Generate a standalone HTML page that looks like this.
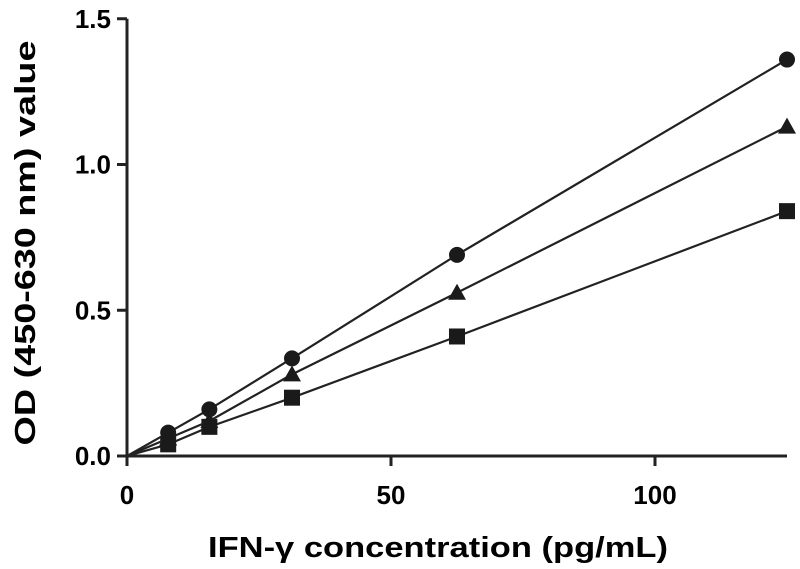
<!DOCTYPE html>
<html><head><meta charset="utf-8"><style>
body{margin:0;background:#fff}
svg{display:block;font-family:"Liberation Sans",Arial,sans-serif;font-weight:bold}
</style></head><body>
<svg id="chart" width="800" height="569" viewBox="0 0 800 569">
<g id="axes"></g>
<g id="series"></g>
<text x="438" y="557" font-size="29" text-anchor="middle" textLength="460" lengthAdjust="spacingAndGlyphs">IFN-γ concentration (pg/mL)</text>
<text transform="translate(35,243) rotate(-90)" font-size="29" text-anchor="middle" textLength="405" lengthAdjust="spacingAndGlyphs">OD (450-630 nm) value</text>
</svg>
<script>
const xValues=[0,7.8,15.6,31.25,62.5,125];
const circleValues=[0,0.08,0.16,0.335,0.69,1.36];
const triangleValues=[0,0.06,0.12,0.28,0.56,1.13];
const squareValues=[0,0.04,0.10,0.20,0.41,0.84];
const xTicks=[0,50,100];
const yTicks=[0.0,0.5,1.0,1.5];
const xTickLabels=["0","50","100"];
const yTickLabels=["0.0","0.5","1.0","1.5"];

const NS="http://www.w3.org/2000/svg";
const X=v=>127+v*5.28;
const Y=v=>456-v*291.5;
function mk(tag,attrs,parent){const e=document.createElementNS(NS,tag);for(const k in attrs)e.setAttribute(k,attrs[k]);parent.appendChild(e);return e;}
const axes=document.getElementById('axes');
const ser=document.getElementById('series');
let l=mk('line',{x1:X(0),y1:Y(0),x2:X(125),y2:Y(0),stroke:'#222','stroke-width':3},axes);


l=mk('line',{x1:X(0),y1:Y(0)+10,x2:X(0),y2:Y(1.5),stroke:'#222','stroke-width':3},axes);


xTicks.forEach((t,i)=>{
  const tk=mk('line',{x1:X(t),y1:Y(0),x2:X(t),y2:Y(0)+10,stroke:'#222','stroke-width':3},axes);
  
  
  const tx=mk('text',{x:X(t),y:504,'font-size':26,'text-anchor':'middle'},axes);
  tx.textContent=xTickLabels[i];
  
  
});
yTicks.forEach((t,i)=>{
  const tk=mk('line',{x1:X(0)-10,y1:Y(t),x2:X(0),y2:Y(t),stroke:'#222','stroke-width':3},axes);
  
  
  const tx=mk('text',{x:X(0)-16,y:Y(t)+9,'font-size':26,'text-anchor':'end'},axes);
  tx.textContent=yTickLabels[i];
  
  
});
function series(vals,shape,name){
  const g=mk('g',{},ser);
  
  
  const pl=mk('polyline',{points:vals.map((v,i)=>X(xValues[i])+','+Y(v)).join(' '),fill:'none',stroke:'#222','stroke-width':2.2},g);
  
  
  vals.forEach((v,i)=>{
    if(i===0)return;
    const cx=X(xValues[i]),cy=Y(v);let m;
    if(shape==='c')m=mk('circle',{cx:cx,cy:cy,r:8,fill:'#1a1a1a'},g);
    else if(shape==='t')m=mk('polygon',{points:`${cx},${cy-9} ${cx-9},${cy+7} ${cx+9},${cy+7}`,fill:'#1a1a1a'},g);
    else m=mk('rect',{x:cx-8,y:cy-8,width:16,height:16,fill:'#1a1a1a'},g);
    
    
  });
}
series(squareValues,'s','square');
series(triangleValues,'t','triangle');
series(circleValues,'c','circle');
</script>
</body></html>
